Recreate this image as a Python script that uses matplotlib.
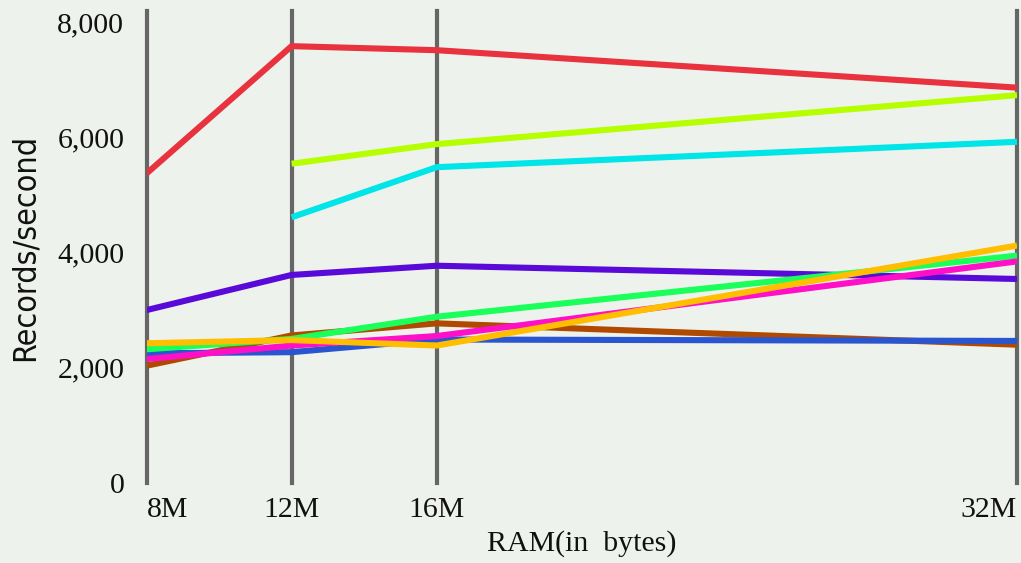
import matplotlib.pyplot as plt

ram = [8, 12, 16, 32]
ram_labels = ['8M', '12M', '16M', '32M']

red = [5370, 7580, 7510, 6860]
lime = [None, 5540, 5880, 6730]
cyan = [None, 4610, 5480, 5920]
purple = [3000, 3610, 3770, 3540]
brown = [2035, 2560, 2770, 2400]
blue = [2250, 2270, 2490, 2465]
green = [2320, 2500, 2885, 3945]
magenta = [2150, 2385, 2550, 3845]
orange = [2425, 2480, 2385, 4120]

series = [
    (red, '#e8333f'),
    (lime, '#b5ff00'),
    (cyan, '#00e5e8'),
    (purple, '#5a0ad8'),
    (brown, '#b04a00'),
    (blue, '#2a55d0'),
    (green, '#1aff5a'),
    (magenta, '#ff10c8'),
    (orange, '#ffbe00'),
]

bg = '#eef2ec'
fig = plt.figure(figsize=(10.21, 5.63), dpi=100, facecolor=bg)
ax = fig.add_axes([146.5 / 1021, 80 / 563, 870.5 / 1021, 472 / 563])
ax.set_facecolor(bg)

for x in ram:
    ax.axvline(x, color='#666666', lw=3, clip_on=False, zorder=1)

for vals, col in series:
    xs = [x for x, v in zip(ram, vals) if v is not None]
    ys = [v for v in vals if v is not None]
    ax.plot(xs, ys, color=col, lw=4.4, solid_capstyle='butt', zorder=3)

ax.set_xlim(8, 32)
ax.set_ylim(0, 8190)
for s in ax.spines.values():
    s.set_visible(False)

serif = ['Liberation Serif', 'DejaVu Serif']
fs = 21.5
ax.set_yticks([0, 2000, 4000, 6000, 8000])
ax.set_yticklabels(['0', '2,000', '4,000', '6,000', '8,000'], family=serif, fontsize=fs)
ax.set_xticks(ram)
ax.set_xticklabels(ram_labels, family=serif, fontsize=fs)
ax.tick_params(axis='both', length=0, colors='#111111')
ax.tick_params(axis='y', pad=16)
ax.tick_params(axis='x', pad=10)
xl = ax.get_xticklabels()
xl[0].set_ha('left')
xl[0].set_x(7.9)
xl[-1].set_ha('right')

ax.set_xlabel('RAM(in  bytes)', family=serif, fontsize=fs, color='#111111', labelpad=5)
ax.set_ylabel('Records/second', family='DejaVu Sans', fontstretch='condensed',
              fontsize=23, color='#111111', labelpad=12)

fig.savefig('out.png', dpi=100, facecolor=bg)
